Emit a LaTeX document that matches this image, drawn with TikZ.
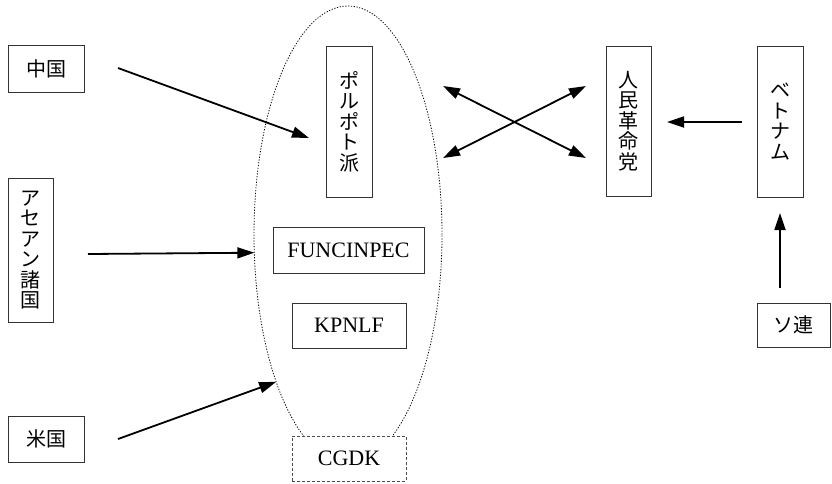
\documentclass[tikz,border=0pt]{standalone}
\usepackage{fontspec}
\setmainfont{Liberation Serif}
\newfontfamily\cjk{Noto Sans CJK JP}
\usetikzlibrary{shapes.geometric,arrows.meta,calc}
\begin{document}
\begin{tikzpicture}[x=1pt,y=-1pt,
  box/.style={draw=black!80,line width=0.9pt,fill=white,inner sep=0pt,outer sep=0pt},
  jp/.style={font=\cjk\fontsize{20}{20.5}\selectfont,align=center},
  lat/.style={font=\fontsize{22}{24}\selectfont},
  arr/.style={line width=1.8pt,-{Triangle[length=17pt,width=11pt]}},
  darr/.style={line width=1.8pt,{Triangle[length=17pt,width=11pt]}-{Triangle[length=17pt,width=11pt]}}]
\useasboundingbox (0,0) rectangle (832,483);
% group ellipse
\node[ellipse,draw=black,line width=0.8pt,dash pattern=on 1.2pt off 1.6pt,
      minimum width=188pt,minimum height=457pt,inner sep=0pt,outer sep=0pt] (grp) at (348,234.5) {};
% nodes
\node[box,jp,minimum width=76pt,minimum height=47pt] (china) at (46,68.5) {中国};
\node[box,jp,minimum width=46pt,minimum height=151pt] (pol) at (349,121.5) {ポ\\ル\\ポ\\ト\\派};
\node[box,jp,minimum width=45pt,minimum height=150pt] (jinmin) at (628.5,121) {人\\民\\革\\命\\党};
\node[box,jp,minimum width=46pt,minimum height=151pt] (viet) at (780,121.5) {ベ\\ト\\ナ\\ム};
\node[box,jp,minimum width=45pt,minimum height=144pt] (asean) at (30.5,250) {ア\\セ\\ア\\ン\\諸\\国};
\node[box,lat,minimum width=151pt,minimum height=46pt] (func) at (348.5,250) {FUNCINPEC};
\node[box,lat,minimum width=114pt,minimum height=45pt] (kpnlf) at (349,325.5) {KPNLF};
\node[box,jp,minimum width=76pt,minimum height=46pt] (usa) at (46,439) {米国};
\node[box,lat,draw=black!70,dash pattern=on 3pt off 2pt,minimum width=114pt,minimum height=45pt] (cgdk) at (349,458.5) {CGDK};
\node[box,jp,minimum width=73pt,minimum height=44pt] (soren) at (793.5,325) {ソ連};
% connectors
\draw[arr] ($(china.east)+(34,-0.5)$) -- ($(pol.west)+(-17,16.5)$);
\draw[arr] ($(asean.east)+(35,4)$) -- (grp.191);
\draw[arr] ($(usa.east)+(34,0)$) -- (grp.244);
\draw[darr] ($(pol.east)+(71,-35.5)$) -- ($(jinmin.west)+(-20,37)$);
\draw[darr] ($(pol.east)+(71,36.5)$) -- ($(jinmin.west)+(-20,-35)$);
\draw[arr] ($(viet.west)+(-15,0.5)$) -- ($(jinmin.east)+(16,1)$);
\draw[arr] ($(viet.south)+(0,91)$) -- ($(viet.south)+(0,16)$);
\end{tikzpicture}
\end{document}
